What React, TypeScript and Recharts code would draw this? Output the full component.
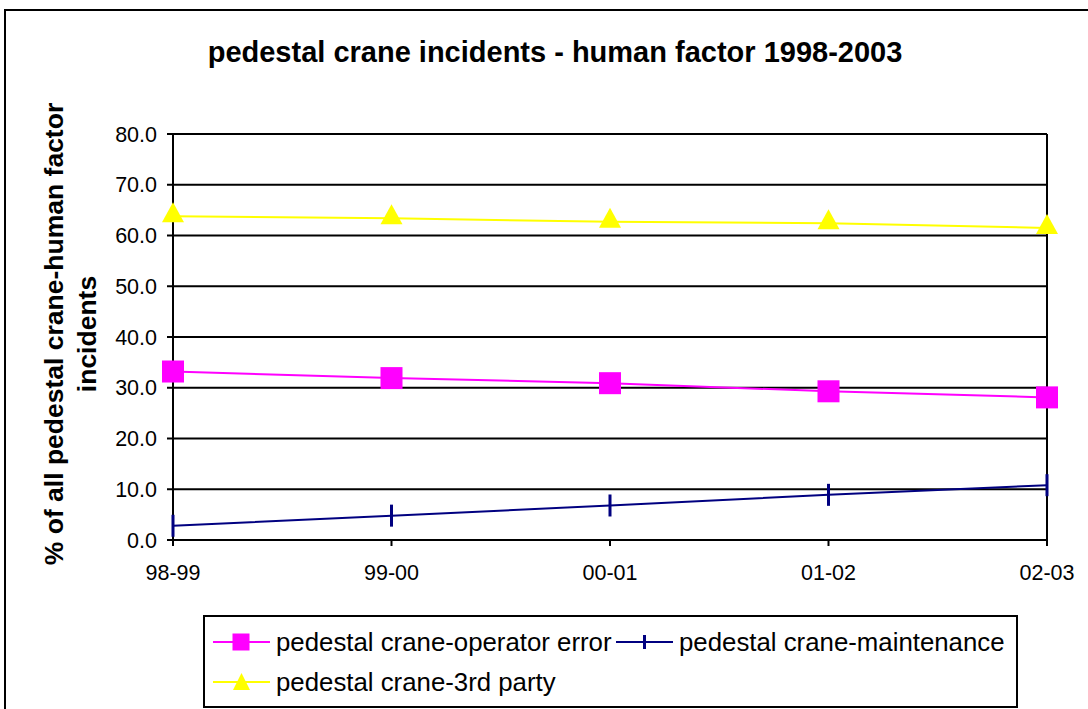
import type { ReactElement } from 'react';
import { CartesianGrid, Line, LineChart, ReferenceLine, XAxis, YAxis } from 'recharts';

const periods = ['98-99', '99-00', '00-01', '01-02', '02-03'];
const operatorError = [33.2, 31.9, 30.9, 29.3, 28.1];
const maintenance = [2.8, 4.8, 6.8, 8.9, 10.8];
const thirdParty = [63.8, 63.4, 62.7, 62.4, 61.5];
const yTicks = [0, 10, 20, 30, 40, 50, 60, 70, 80];

const seriesNames = {
  op: 'pedestal crane-operator error',
  mt: 'pedestal crane-maintenance',
  tp: 'pedestal crane-3rd party',
};

const MAGENTA = '#ff00ff';
const NAVY = '#000080';
const YELLOW = '#ffff00';
const FONT = '"Liberation Sans", Arial, sans-serif';

const data = periods.map((p, i) => ({
  period: p,
  op: operatorError[i],
  mt: maintenance[i],
  tp: thirdParty[i],
}));

const squareDot = (props: any) => (
  <rect key={`sq-${props.index}`} x={props.cx - 11} y={props.cy - 11} width={22} height={22} fill={MAGENTA} />
);
const dashDot = (props: any) => (
  <rect key={`ds-${props.index}`} x={props.cx - 1.5} y={props.cy - 11} width={3} height={22} fill={NAVY} />
);
const triDot = (props: any) => (
  <path
    key={`tr-${props.index}`}
    d={`M${props.cx},${props.cy - 14} L${props.cx + 11},${props.cy + 6} L${props.cx - 11},${props.cy + 6} Z`}
    fill={YELLOW}
  />
);

function LegendIcon({ kind, color }: { kind: string; color: string }): ReactElement {
  return (
    <svg width={57} height={24} style={{ display: 'block' }}>
      <line x1={0} y1={12} x2={57} y2={12} stroke={color} strokeWidth={2} />
      {kind === 'sq' && <rect x={19.5} y={3.5} width={17} height={17} fill={color} />}
      {kind === 'ds' && <rect x={27} y={5} width={3} height={14} fill={color} />}
      {kind === 'tr' && <path d="M28.5,3 L37,20 L20,20 Z" fill={color} />}
    </svg>
  );
}

function LegendItem({ kind, color, label, left, top }: { kind: string; color: string; label: string; left: number; top: number }): ReactElement {
  return (
    <div style={{ position: 'absolute', left, top, display: 'flex', alignItems: 'center', height: 24 }}>
      <LegendIcon kind={kind} color={color} />
      <span style={{ marginLeft: 6, fontSize: 25.8, lineHeight: '24px', fontFamily: FONT, whiteSpace: 'nowrap' }}>{label}</span>
    </div>
  );
}

export default function App(): ReactElement {
  return (
    <div style={{ position: 'absolute', left: 0, top: 0, width: 1088, height: 709, overflow: 'hidden', background: '#fff' }}>
      <div style={{ position: 'absolute', left: 4, top: 9, width: 1120, height: 740, border: '2px solid #000', boxSizing: 'border-box' }} />
      <div
        style={{
          position: 'absolute', left: 0, width: 1110, top: 34, textAlign: 'center',
          fontFamily: FONT, fontWeight: 'bold', fontSize: 29, lineHeight: '36px',
        }}
      >
        pedestal crane incidents - human factor 1998-2003
      </div>
      <div style={{ position: 'absolute', left: 71, top: 334, width: 0, height: 0 }}>
        <div
          style={{
            position: 'absolute', left: -300, top: -33, width: 600, textAlign: 'center',
            transform: 'rotate(-90deg)', fontFamily: FONT, fontWeight: 'bold', fontSize: 26.5, lineHeight: '33px',
          }}
        >
          % of all pedestal crane-human factor
          <br />
          incidents
        </div>
      </div>
      <LineChart
        width={1088}
        height={709}
        data={data}
        margin={{ top: 134, right: 41, bottom: 129, left: 0 }}
        style={{ position: 'absolute', left: 0, top: 0 }}
      >
        <CartesianGrid yAxisId="left" vertical={false} stroke="#000" strokeWidth={2} />
        <XAxis
          dataKey="period"
          height={40}
          padding={{ left: 0, right: 0 }}
          stroke="#000"
          strokeWidth={2}
          tickSize={6}
          tickMargin={19}
          tick={{ fill: '#000', fontSize: 21.5, fontFamily: FONT }}
          interval={0}
        />
        <YAxis
          yAxisId="left"
          width={173}
          domain={[0, 80]}
          ticks={yTicks}
          tickFormatter={(v: number) => v.toFixed(1)}
          stroke="#000"
          strokeWidth={2}
          tickSize={6}
          tickMargin={10}
          tick={{ fill: '#000', fontSize: 21.5, fontFamily: FONT }}
          interval={0}
        />
        <ReferenceLine yAxisId="left" x="02-03" stroke="#000" strokeWidth={2} />
        <Line yAxisId="left" dataKey="op" name={seriesNames.op} stroke={MAGENTA} strokeWidth={2} dot={squareDot} isAnimationActive={false} />
        <Line yAxisId="left" dataKey="mt" name={seriesNames.mt} stroke={NAVY} strokeWidth={2} dot={dashDot} isAnimationActive={false} />
        <Line yAxisId="left" dataKey="tp" name={seriesNames.tp} stroke={YELLOW} strokeWidth={2} dot={triDot} isAnimationActive={false} />
      </LineChart>
      <div style={{ position: 'absolute', left: 203, top: 615, width: 815, height: 93, border: '2px solid #000', boxSizing: 'border-box' }} />
      <LegendItem kind="sq" color={MAGENTA} label={seriesNames.op} left={213} top={630} />
      <LegendItem kind="ds" color={NAVY} label={seriesNames.mt} left={616} top={630} />
      <LegendItem kind="tr" color={YELLOW} label={seriesNames.tp} left={213} top={670} />
    </div>
  );
}
